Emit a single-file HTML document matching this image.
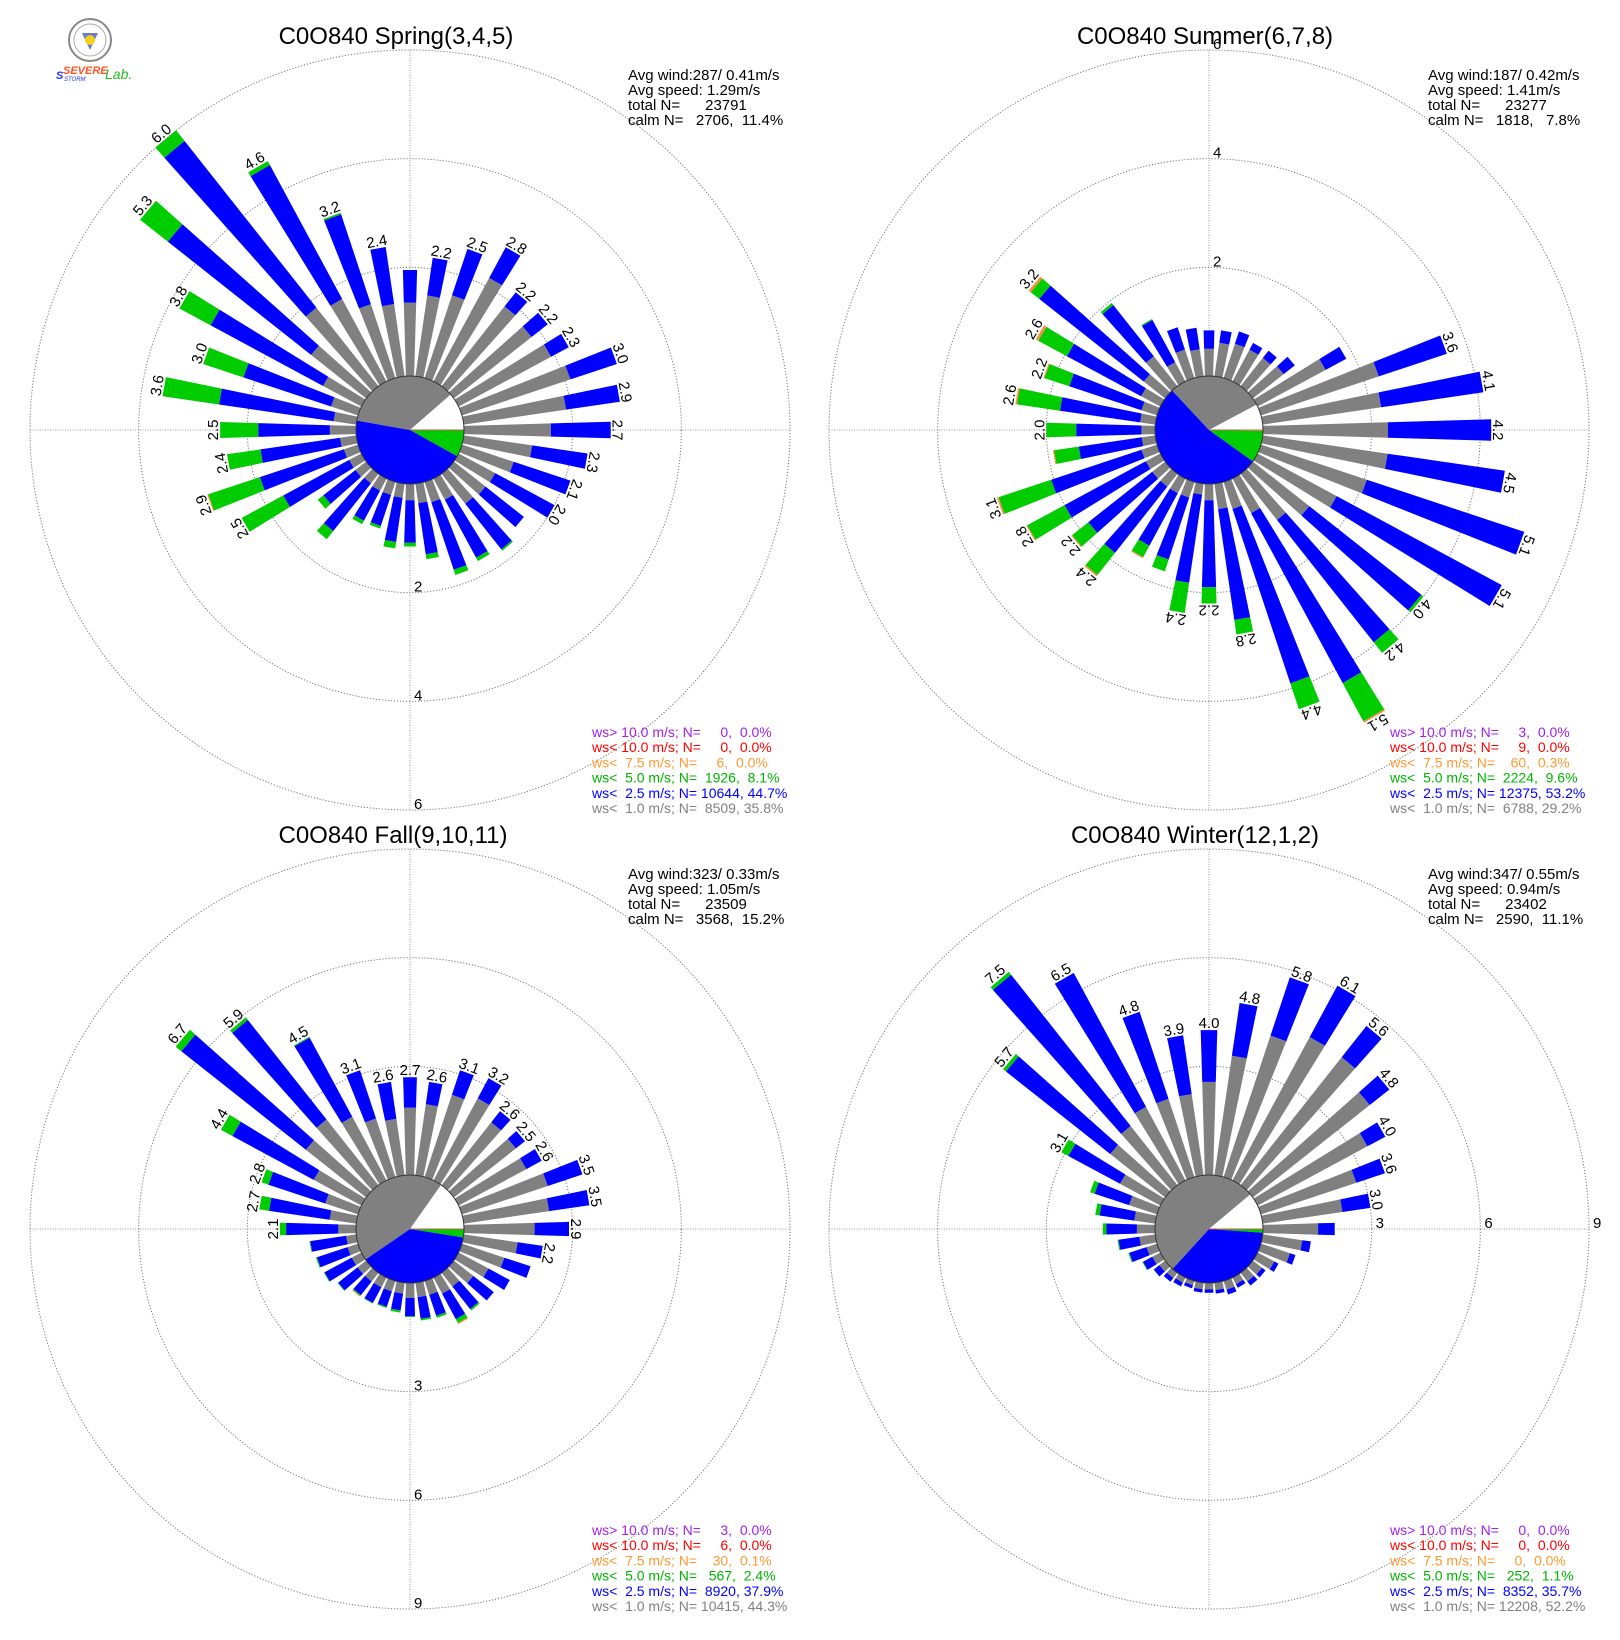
<!DOCTYPE html>
<html><head><meta charset="utf-8">
<style>
html,body{margin:0;padding:0;background:#fff;}
svg{display:block;font-family:"Liberation Sans",sans-serif;}
.pre{white-space:pre;}
</style></head>
<body>
<svg id="chart" width="1620" height="1640" viewBox="0 0 1620 1640" xmlns="http://www.w3.org/2000/svg">
  <rect x="0" y="0" width="1620" height="1640" fill="#fff"/>
  <g>
    <circle cx="90" cy="40" r="21" fill="#fff" stroke="#888" stroke-width="2"/>
    <circle cx="90" cy="40" r="16" fill="none" stroke="#aaa" stroke-width="1"/>
    <polygon points="82,33 98,33 90,50" fill="#6a7ad0"/>
    <circle cx="90" cy="40" r="5" fill="#f2d21b"/>
    <text x="56" y="79" font-size="11" fill="#2233ee" font-style="italic" font-weight="bold">S</text>
    <text x="63" y="74" font-size="11" fill="#ff5522" font-style="italic" font-weight="bold">SEVERE</text>
    <text x="64" y="81" font-size="6" fill="#2233ee" font-style="italic">STORM</text>
    <text x="105" y="79" font-size="14" fill="#22bb22" font-style="italic">Lab.</text>
  </g>
</svg>
<script>
// ---------- Data (percent per 10-degree bin, index i => i*10 deg) ----------
const directions = [0,10,20,30,40,50,60,70,80,90,100,110,120,130,140,150,160,170,180,190,200,210,220,230,240,250,260,270,280,290,300,310,320,330,340,350];

const springGray  = [1.35,1.5,1.6,2.16,1.87,1.82,1.93,2.1,1.9,1.6,1.27,1.0,0.76,0.74,0.7,0.44,0.39,0.36,0.3,0.26,0.25,0.25,0.22,0.25,0.25,0.27,0.3,0.48,0.42,0.52,0.8,1.29,1.84,1.72,1.43,1.34];
const springBlue  = [0.6,0.7,0.9,0.64,0.33,0.38,0.37,0.9,1.0,1.1,1.03,1.1,1.24,0.9,1.07,1.21,1.31,0.95,0.78,0.82,0.6,0.63,1.12,0.75,1.38,1.63,1.48,1.32,2.13,1.7,2.35,3.36,3.91,2.8,1.74,1.06];
const springGreen = [0,0,0,0,0,0,0,0,0,0,0,0,0,0,0.03,0.07,0.1,0.09,0.07,0.12,0.05,0.07,0.19,0.13,0.87,1.0,0.62,0.7,1.05,0.78,0.65,0.65,0.25,0.08,0.03,0];
const springOrange= [0,0,0,0,0,0,0,0,0,0,0,0,0,0,0,0,0,0,0,0,0,0,0,0,0,0.02,0,0,0,0,0,0,0,0,0,0];

const summerGray  = [0.5,0.62,0.66,0.66,0.66,0.72,1.42,2.28,2.2,2.3,2.32,2.05,1.65,1.32,1.08,0.72,0.52,0.47,0.3,0.2,0.3,0.3,0.3,0.3,0.3,0.3,0.25,0.25,0.28,0.3,0.4,0.5,0.7,0.4,0.55,0.5];
const summerBlue  = [0.34,0.23,0.24,0.14,0.17,0.26,0.43,1.32,1.9,1.9,2.18,3.05,3.45,2.63,2.87,3.55,3.38,2.06,1.6,1.64,1.2,1.1,1.55,1.5,1.7,1.75,1.17,1.2,1.49,1.4,1.55,2.45,1.2,0.88,0.43,0.4];
const summerGreen = [0,0,0,0,0,0,0,0,0,0,0,0,0,0.05,0.25,0.8,0.5,0.27,0.3,0.56,0.23,0.24,0.52,0.38,0.78,1.02,0.46,0.55,0.8,0.48,0.6,0.2,0.05,0.02,0,0];
const summerOrange= [0,0,0,0,0,0,0,0,0,0,0,0,0,0,0,0.03,0,0,0,0,0,0.02,0.03,0.02,0.02,0.03,0.02,0,0.03,0.02,0.05,0.05,0,0,0,0];

const fallGray  = [1.86,1.98,2.39,2.57,2.21,2.18,2.12,2.49,2.38,1.95,1.5,1.23,0.93,0.68,0.48,0.5,0.4,0.4,0.41,0.3,0.3,0.3,0.3,0.3,0.3,0.3,0.28,0.49,0.74,0.95,1.49,2.12,2.31,1.99,1.7,1.57];
const fallBlue  = [0.84,0.62,0.71,0.63,0.39,0.32,0.48,1.01,1.12,0.95,0.7,0.76,0.67,0.72,0.79,0.8,0.61,0.6,0.51,0.47,0.45,0.49,0.48,0.68,0.85,0.89,1.0,1.44,1.69,1.65,2.55,4.38,3.5,2.48,1.4,1.03];
const fallGreen = [0,0,0,0,0,0,0,0,0,0,0,0,0,0,0.05,0.12,0.06,0.05,0.02,0.06,0.03,0.02,0.03,0.02,0.02,0.03,0.02,0.17,0.27,0.2,0.36,0.2,0.09,0.03,0,0];
const fallOrange= [0,0,0,0,0,0,0,0,0,0,0,0,0,0,0,0.03,0,0,0,0,0,0,0.02,0,0,0,0,0,0,0,0,0,0,0,0,0];

const winterGray  = [2.57,3.33,4.11,4.49,4.5,4.11,3.44,2.77,2.22,1.52,1.1,0.84,0.52,0.32,0.3,0.2,0.25,0.2,0.18,0.18,0.12,0.15,0.18,0.2,0.25,0.3,0.44,0.5,0.58,0.81,1.26,1.93,2.08,2.3,2.27,2.26];
const winterBlue  = [1.43,1.47,1.69,1.61,1.1,0.69,0.56,0.83,0.78,0.46,0.24,0.16,0.13,0.12,0.14,0.11,0.14,0.1,0.09,0.09,0.09,0.12,0.13,0.2,0.29,0.5,0.58,0.84,0.97,1.0,1.62,3.67,5.32,4.2,2.53,1.64];
const winterGreen = [0,0,0,0,0,0,0,0,0,0,0,0,0,0,0,0,0,0,0,0,0,0,0,0,0.02,0.03,0.03,0.1,0.12,0.13,0.22,0.1,0.1,0,0,0];
const winterOrange= [0,0,0,0,0,0,0,0,0,0,0,0,0,0,0,0,0,0,0,0,0,0,0,0,0,0,0,0,0,0,0,0,0,0,0,0];

// pie (legend) percentages: [>10, <10, <7.5, <5, <2.5, <1, calm]
const springPie = [0.0,0.0,0.0,8.1,44.7,35.8,11.4];
const summerPie = [0.0,0.0,0.3,9.6,53.2,29.2,7.8];
const fallPie   = [0.0,0.0,0.1,2.4,37.9,44.3,15.2];
const winterPie = [0.0,0.0,0.0,1.1,35.7,52.2,11.1];

const springCounts = [0,0,6,1926,10644,8509];
const summerCounts = [3,9,60,2224,12375,6788];
const fallCounts   = [3,6,30,567,8920,10415];
const winterCounts = [0,0,0,252,8352,12208];

const springInfo = ["Avg wind:287/ 0.41m/s","Avg speed: 1.29m/s","total N=      23791","calm N=   2706,  11.4%"];
const summerInfo = ["Avg wind:187/ 0.42m/s","Avg speed: 1.41m/s","total N=      23277","calm N=   1818,   7.8%"];
const fallInfo   = ["Avg wind:323/ 0.33m/s","Avg speed: 1.05m/s","total N=      23509","calm N=   3568,  15.2%"];
const winterInfo = ["Avg wind:347/ 0.55m/s","Avg speed: 0.94m/s","total N=      23402","calm N=   2590,  11.1%"];

const springRings = [2,4,6];
const summerRings = [2,4,6];
const fallRings = [3,6,9];
const winterRings = [3,6,9];

const legendNames = ["ws> 10.0 m/s; N=","ws< 10.0 m/s; N=","ws<  7.5 m/s; N=","ws<  5.0 m/s; N=","ws<  2.5 m/s; N=","ws<  1.0 m/s; N="];
const legendColors = ["#a020f0","#ff0000","#ff9933","#00b400","#0000ff","#808080"];
const pieColors = ["#a020f0","#ff0000","#ff9933","#00cc00","#0000ff","#808080","#ffffff"];
const segColors = {gray:"#808080", blue:"#0000ff", green:"#00cc00", orange:"#ff8c40"};

const roses = [
  {key:"spring", title:"C0O840 Spring(3,4,5)", cx:410, cy:430, tx:396, ty:44, rings:springRings, ringAngle:180, gray:springGray, blue:springBlue, green:springGreen, orange:springOrange, pie:springPie, counts:springCounts, info:springInfo, thr:2.0, ix:628, iy:80, lx:592, ly:737},
  {key:"summer", title:"C0O840 Summer(6,7,8)", cx:1209, cy:430, tx:1205, ty:44, rings:summerRings, ringAngle:0, gray:summerGray, blue:summerBlue, green:summerGreen, orange:summerOrange, pie:summerPie, counts:summerCounts, info:summerInfo, thr:2.0, ix:1428, iy:80, lx:1390, ly:737},
  {key:"fall", title:"C0O840 Fall(9,10,11)", cx:410, cy:1229, tx:393, ty:843, rings:fallRings, ringAngle:180, gray:fallGray, blue:fallBlue, green:fallGreen, orange:fallOrange, pie:fallPie, counts:fallCounts, info:fallInfo, thr:2.1, ix:628, iy:879, lx:592, ly:1535},
  {key:"winter", title:"C0O840 Winter(12,1,2)", cx:1209, cy:1229, tx:1195, ty:843, rings:winterRings, ringAngle:90, gray:winterGray, blue:winterBlue, green:winterGreen, orange:winterOrange, pie:winterPie, counts:winterCounts, info:winterInfo, thr:3.0, ix:1428, iy:879, lx:1390, ly:1535}
];

// ---------- Drawing ----------
const NS = "http://www.w3.org/2000/svg";
const svg = document.getElementById("chart");
const CALM_R = 54;
const OUTER_R = 380;
function mk(tag, attrs, parent){
  const el = document.createElementNS(NS, tag);
  for (const k in attrs) el.setAttribute(k, attrs[k]);
  parent.appendChild(el);
  return el;
}
function pt(cx, cy, r, deg){
  const a = deg*Math.PI/180;
  return [cx + r*Math.sin(a), cy - r*Math.cos(a)];
}
function pad(s, n){ s = String(s); while (s.length < n) s = " " + s; return s; }

roses.forEach(function(rose){
  const maxRing = rose.rings[rose.rings.length-1];
  const k = (OUTER_R - CALM_R)/maxRing;
  const rad = function(p){ return CALM_R + p*k; };
  const hw = function(r){ return (5 + 0.058*r)/2; };
  const g = mk("g", {}, svg);
  
  

  rose.rings.forEach(function(v){
    const c = mk("circle", {cx:rose.cx, cy:rose.cy, r:rad(v), fill:"none", stroke:"#777", "stroke-width":1, "stroke-dasharray":"1.2,1.8"}, g);
    
    
    const p = pt(rose.cx, rose.cy, rad(v), rose.ringAngle);
    const t = mk("text", {x:p[0]+4, y:p[1]-1, "font-size":15, fill:"#000"}, g);
    t.textContent = String(v);
    
    
  });
  const h = mk("line", {x1:rose.cx-OUTER_R, y1:rose.cy, x2:rose.cx+OUTER_R, y2:rose.cy, stroke:"#999", "stroke-width":1, "stroke-dasharray":"1,1.5"}, g);
  
  
  const v = mk("line", {x1:rose.cx, y1:rose.cy-OUTER_R, x2:rose.cx, y2:rose.cy+OUTER_R, stroke:"#999", "stroke-width":1, "stroke-dasharray":"1,1.5"}, g);
  
  

  directions.forEach(function(dir, i){
    const segs = [["gray", rose.gray[i]], ["blue", rose.blue[i]], ["green", rose.green[i]], ["orange", rose.orange[i]]];
    let cum = 0;
    const bg = mk("g", {}, g);
    
    
    segs.forEach(function(s){
      if (s[1] <= 0) return;
      const r1 = rad(cum), r2 = rad(cum + s[1]);
      cum += s[1];
      const a = dir*Math.PI/180;
      const ux = Math.sin(a), uy = -Math.cos(a), px = Math.cos(a), py = Math.sin(a);
      const w1 = hw(r1), w2 = hw(r2);
      const pts = [
        [rose.cx + ux*r1 + px*w1, rose.cy + uy*r1 + py*w1],
        [rose.cx + ux*r2 + px*w2, rose.cy + uy*r2 + py*w2],
        [rose.cx + ux*r2 - px*w2, rose.cy + uy*r2 - py*w2],
        [rose.cx + ux*r1 - px*w1, rose.cy + uy*r1 - py*w1]
      ].map(function(q){ return q[0].toFixed(1) + "," + q[1].toFixed(1); }).join(" ");
      const poly = mk("polygon", {points:pts, fill:segColors[s[0]]}, bg);
      
      
    });
    const total = Math.round(cum*100)/100;
    if (total >= rose.thr - 0.001) {
      const p = pt(rose.cx, rose.cy, rad(total) + 2, dir);
      const t = mk("text", {x:p[0].toFixed(1), y:p[1].toFixed(1), "font-size":15, "text-anchor":"middle", transform:"rotate(" + dir + " " + p[0].toFixed(1) + " " + p[1].toFixed(1) + ")"}, g);
      t.textContent = total.toFixed(1);
      
      
    }
  });

  const pg = mk("g", {}, g);
  
  
  const pieTotal = rose.pie.reduce(function(a,b){return a+b;}, 0);
  let ang = 90;
  rose.pie.forEach(function(pct, j){
    const sweep = pct/pieTotal*360;
    if (sweep <= 0.01) return;
    const a0 = pt(rose.cx, rose.cy, CALM_R, ang), a1 = pt(rose.cx, rose.cy, CALM_R, ang + sweep);
    const large = sweep > 180 ? 1 : 0;
    const d = "M" + rose.cx + "," + rose.cy + " L" + a0[0].toFixed(2) + "," + a0[1].toFixed(2) + " A" + CALM_R + "," + CALM_R + " 0 " + large + " 1 " + a1[0].toFixed(2) + "," + a1[1].toFixed(2) + " Z";
    const path = mk("path", {d:d, fill:pieColors[j]}, pg);
    
    
    ang += sweep;
  });
  const ln = mk("line", {x1:rose.cx, y1:rose.cy, x2:rose.cx+CALM_R, y2:rose.cy, stroke:"#c06040", "stroke-width":1}, pg);
  
  
  const oc = mk("circle", {cx:rose.cx, cy:rose.cy, r:CALM_R, fill:"none", stroke:"#333", "stroke-width":1}, pg);
  
  

  const tt = mk("text", {x:rose.tx, y:rose.ty, "font-size":24, "text-anchor":"middle"}, g);
  tt.textContent = rose.title;
  
  

  rose.info.forEach(function(line, j){
    const t = mk("text", {x:rose.ix, y:rose.iy + j*15, "font-size":15, "class":"pre"}, g);
    t.textContent = line;
    
    
  });

  legendNames.forEach(function(nm, j){
    const s = nm + pad(rose.counts[j], 6) + ", " + pad(rose.pie[j].toFixed(1), 4) + "%";
    const t = mk("text", {x:rose.lx, y:rose.ly + j*15.2, "font-size":14, fill:legendColors[j], "class":"pre"}, g);
    t.textContent = s;
    
    
  });
});
</script>
</body></html>
